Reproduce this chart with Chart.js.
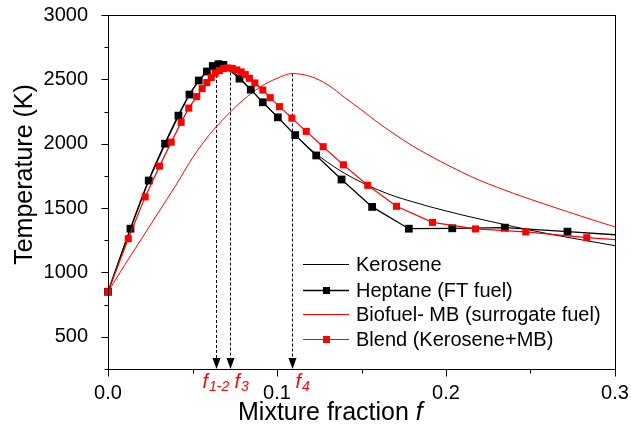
<!DOCTYPE html>
<html>
<head>
<meta charset="utf-8">
<script src="https://cdn.jsdelivr.net/npm/chart.js@4.4.1/dist/chart.umd.min.js"></script>
<style>
html, body { margin: 0; padding: 0; background: #fff; }
#wrap { width: 631px; height: 425px; position: relative; }
</style>
</head>
<body>
<div id="wrap"><canvas id="chart"></canvas></div>
<script>
// Flame temperature vs mixture fraction - four fuels

const FONT = '"Liberation Sans", Arial, sans-serif';

// Kerosene (smooth line, no markers)
const keroF = [0, 0.0133, 0.0241, 0.0338, 0.0417, 0.0482, 0.055, 0.06, 0.065, 0.07, 0.075, 0.08, 0.09, 0.1, 0.11, 0.12, 0.13, 0.14, 0.15, 0.16, 0.17, 0.18, 0.19, 0.2, 0.21, 0.22, 0.24, 0.26, 0.28, 0.3];
const keroT = [850, 1345, 1720, 2010, 2225, 2385, 2510, 2575, 2605, 2598, 2550, 2485, 2345, 2210, 2075, 1955, 1855, 1770, 1700, 1640, 1590, 1550, 1512, 1478, 1445, 1415, 1356, 1302, 1254, 1208];

// Heptane (FT fuel) - black squares
const heptF = [0, 0.0133, 0.0241, 0.0338, 0.0417, 0.0482, 0.0537, 0.0585, 0.062, 0.0654, 0.0683, 0.0778, 0.0845, 0.0916, 0.1005, 0.1108, 0.1232, 0.1382, 0.1563, 0.178, 0.2037, 0.2348, 0.2719, 0.3];
const heptT = [850, 1340, 1714, 2000, 2218, 2382, 2491, 2561, 2604, 2618, 2612, 2506, 2420, 2322, 2205, 2067, 1909, 1722, 1509, 1340, 1343, 1348, 1317, 1293];

// Biofuel- MB (smooth red line)
const mbF = [0, 0.01, 0.02, 0.03, 0.04, 0.05, 0.06, 0.07, 0.08, 0.09, 0.1, 0.109, 0.12, 0.13, 0.14, 0.15, 0.16, 0.17, 0.18, 0.19, 0.2, 0.21, 0.22, 0.23, 0.24, 0.25, 0.26, 0.27, 0.28, 0.29, 0.3];
const mbT = [850, 1060, 1265, 1470, 1674, 1890, 2070, 2215, 2340, 2440, 2508, 2545, 2522, 2458, 2360, 2262, 2162, 2070, 1985, 1910, 1840, 1775, 1715, 1663, 1614, 1568, 1524, 1480, 1437, 1395, 1354];

// Blend (Kerosene+MB) - red squares
const blendF = [0, 0.012, 0.022, 0.0305, 0.0374, 0.0433, 0.0478, 0.0525, 0.0557, 0.0585, 0.0611, 0.0634, 0.066, 0.0683, 0.0709, 0.0735, 0.0762, 0.0788, 0.0812, 0.0837, 0.0869, 0.0916, 0.096, 0.1015, 0.1088, 0.1173, 0.1273, 0.1393, 0.1537, 0.1707, 0.192, 0.2175, 0.2472, 0.2833, 0.3];
const blendT = [850, 1262, 1587, 1826, 2012, 2166, 2277, 2366, 2428, 2475, 2514, 2547, 2568, 2584, 2589, 2584, 2573, 2558, 2537, 2508, 2472, 2417, 2358, 2288, 2199, 2096, 1977, 1836, 1677, 1514, 1389, 1338, 1315, 1270, 1255];

// Dashed arrows marking the peak positions
const arrowF = [0.0642, 0.0719, 0.1086];
const arrowTop = [2612, 2592, 2545];
const arrowSub = ['1-2', '3', '4'];
const arrowLabelDx = [-14, 5, 4];

const legendNames = ['Kerosene', 'Heptane (FT fuel)', 'Biofuel- MB (surrogate fuel)', 'Blend (Kerosene+MB)'];

function pts(fs, ts) {
    return fs.map((f, i) => ({ x: f, y: ts[i] }));
}

// no marker on the extra end point that runs the line to the frame
function radii(n, r) {
    const a = new Array(n).fill(r);
    a[n - 1] = 0;
    return a;
}

const datasets = [{
    label: legendNames[0],
    data: pts(keroF, keroT),
    borderColor: '#000',
    borderWidth: 1,
    pointRadius: 0,
    cubicInterpolationMode: 'monotone',
    clip: false,
    order: 3
}, {
    label: legendNames[1],
    data: pts(heptF, heptT),
    borderColor: '#000',
    backgroundColor: '#000',
    borderWidth: 1.3,
    pointStyle: 'rect',
    pointRadius: radii(heptF.length, 5.5),
    pointBorderWidth: 0,
    tension: 0,
    clip: false,
    order: 1
}, {
    label: legendNames[2],
    data: pts(mbF, mbT),
    borderColor: '#ff0000',
    borderWidth: 1,
    pointRadius: 0,
    cubicInterpolationMode: 'monotone',
    clip: false,
    order: 2
}, {
    label: legendNames[3],
    data: pts(blendF, blendT),
    borderColor: '#ff0000',
    backgroundColor: '#ff0000',
    borderWidth: 1.2,
    pointStyle: 'rect',
    pointRadius: radii(blendF.length, 5),
    pointBorderWidth: 0,
    tension: 0,
    clip: false,
    order: 0
}];

const px = v => Math.round(v) + 0.5;

const overlay = {
    id: 'overlay',
    beforeDatasetsDraw(chart) {
        const ctx = chart.ctx;
        const xs = chart.scales.x, ys = chart.scales.y;
        const bottom = chart.chartArea.bottom;
        ctx.save();
        arrowF.forEach((f, i) => {
            const x = px(xs.getPixelForValue(f));
            const top = ys.getPixelForValue(arrowTop[i]);
            ctx.strokeStyle = '#000';
            ctx.lineWidth = 1;
            ctx.setLineDash([3, 2]);
            ctx.beginPath();
            ctx.moveTo(x, top);
            ctx.lineTo(x, bottom - 10);
            ctx.stroke();
            ctx.setLineDash([]);
            ctx.fillStyle = '#000';
            ctx.beginPath();
            ctx.moveTo(x - 4, bottom - 11);
            ctx.lineTo(x + 4, bottom - 11);
            ctx.lineTo(x, bottom);
            ctx.closePath();
            ctx.fill();
        });
        ctx.restore();
    },
    afterDraw(chart) {
        const ctx = chart.ctx;
        const a = chart.chartArea;
        const xs = chart.scales.x, ys = chart.scales.y;
        ctx.save();

        // frame
        ctx.strokeStyle = '#000';
        ctx.lineWidth = 1;
        ctx.strokeRect(px(a.left), px(a.top), Math.round(a.right) - Math.round(a.left), Math.round(a.bottom) - Math.round(a.top));

        // ticks, outward
        ctx.beginPath();
        ys.ticks.forEach(t => {
            const y = px(ys.getPixelForValue(t.value));
            const len = t.value % 500 === 0 ? 7 : 4;
            ctx.moveTo(px(a.left), y);
            ctx.lineTo(px(a.left) - len, y);
        });
        xs.ticks.forEach(t => {
            const x = px(xs.getPixelForValue(t.value));
            const major = Math.abs(t.value * 10 - Math.round(t.value * 10)) < 1e-6;
            ctx.moveTo(x, px(a.bottom));
            ctx.lineTo(x, px(a.bottom) + (major ? 7 : 4));
        });
        ctx.stroke();

        // f labels under the arrows
        ctx.fillStyle = '#ff0000';
        ctx.textBaseline = 'alphabetic';
        ctx.textAlign = 'left';
        arrowF.forEach((f, i) => {
            const x = xs.getPixelForValue(f) + arrowLabelDx[i];
            const y = a.bottom + 19;
            ctx.font = 'italic 20px ' + FONT;
            ctx.fillText('f', x, y);
            const w = ctx.measureText('f').width;
            ctx.font = 'italic 14px ' + FONT;
            ctx.fillText(arrowSub[i], x + w + 1, y + 3);
        });

        // axis titles
        ctx.fillStyle = '#000';
        ctx.font = '25px ' + FONT;
        const xt = 'Mixture fraction ';
        ctx.fillText(xt, 238, 420);
        const xw = ctx.measureText(xt).width;
        ctx.font = 'italic 25px ' + FONT;
        ctx.fillText('f', 238 + xw, 420);

        ctx.save();
        ctx.translate(32, 174.5);
        ctx.rotate(-Math.PI / 2);
        ctx.textAlign = 'center';
        ctx.font = '25px ' + FONT;
        ctx.fillText('Temperature (K)', 0, 0);
        ctx.restore();

        // legend
        const rows = [264, 290, 314, 339];
        ctx.font = '20px ' + FONT;
        ctx.textBaseline = 'middle';
        datasets.forEach((ds, i) => {
            const y = rows[i] + 0.5;
            ctx.strokeStyle = ds.borderColor;
            ctx.lineWidth = ds.borderWidth;
            ctx.beginPath();
            ctx.moveTo(303, y);
            ctx.lineTo(349, y);
            ctx.stroke();
            if (ds.pointStyle === 'rect') {
                ctx.fillStyle = ds.backgroundColor;
                ctx.fillRect(323, y - 3.5, 7, 7);
            }
            ctx.fillStyle = '#000';
            ctx.fillText(legendNames[i], 356, y + 1);
        });
        ctx.restore();
    }
};

new Chart(document.getElementById('chart'), {
    type: 'line',
    data: { datasets: datasets },
    options: {
        responsive: true,
        maintainAspectRatio: false,
        animation: false,
        devicePixelRatio: 1,
        layout: { padding: { top: 15, right: 16, left: 0, bottom: 0 } },
        plugins: {
            legend: { display: false },
            tooltip: { enabled: false }
        },
        scales: {
            x: {
                type: 'linear',
                min: 0,
                max: 0.3,
                grid: { display: false },
                border: { display: false },
                ticks: {
                    stepSize: 0.05,
                    autoSkip: false,
                    maxRotation: 0,
                    padding: 4,
                    color: '#000',
                    font: { family: FONT, size: 20 },
                    callback: v => Math.abs(v * 10 - Math.round(v * 10)) < 1e-6 ? v.toFixed(1) : ''
                },
                afterFit: s => { s.height = 56; s.paddingLeft = 0; s.paddingRight = 0; }
            },
            y: {
                type: 'linear',
                min: 250,
                max: 3000,
                grid: { display: false },
                border: { display: false },
                ticks: {
                    stepSize: 250,
                    autoSkip: false,
                    padding: 12,
                    color: '#000',
                    font: { family: FONT, size: 20 },
                    callback: v => v % 500 === 0 ? String(v) : ''
                },
                afterFit: s => { s.width = 108; s.paddingTop = 0; s.paddingBottom = 0; }
            }
        }
    },
    plugins: [overlay]
});
</script>
</body>
</html>
